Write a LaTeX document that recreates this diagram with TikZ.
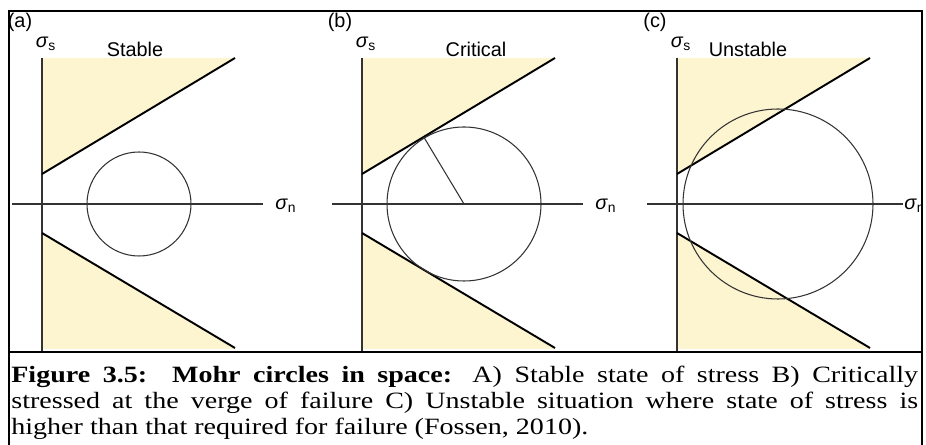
\documentclass[tikz,border=0pt]{standalone}
\usepackage{fontspec}
\setmainfont{Liberation Serif}[FakeStretch=1.2]
\setsansfont{Liberation Sans}
\usetikzlibrary{calc}
\definecolor{zone}{HTML}{FCF5CF}
\definecolor{axisline}{HTML}{333333}

\begin{document}
\begin{tikzpicture}[x=0.02cm, y=-0.02cm,
  font=\sffamily\fontsize{11.3}{13}\selectfont,
  fail/.style={fill=zone, draw=none},
  axisln/.style={draw=axisline, line width=0.6pt},
  env/.style={draw=black, line width=1.1pt},
  mohr/.style={draw=axisline, line width=0.6pt},
  frame/.style={draw=black, line width=1.2pt},
  lab/.style={inner sep=0pt},
  caption/.style={anchor=north west, inner sep=0pt, text width=18.14cm, align=justify,
                  font=\rmfamily\fontsize{13.3}{14.6}\selectfont}]
\useasboundingbox (0,0) rectangle (926,445);
% ---------------- three panels: failure zones, axes, envelopes
\begin{scope}
\clip (9,11) rectangle (922,352);
\foreach \ax/\xend/\tag/\id in {42/263/a/1, 362/583/b/2, 677/903/c/3} {
  \fill[fail] (\ax,58) -- (\ax+193,58) -- (\ax,174) -- cycle;
  \fill[fail] (\ax,233) -- (\ax+193,349) -- (\ax,349) -- cycle;
  \draw[axisln] (\ax,58) -- (\ax,352);
  \draw[axisln] (\ax-30,204) -- (\xend,204);
  \draw[env] (\ax,174) -- (\ax+193,58);
  \draw[env] (\ax,233) -- (\ax+193,348);
  \node[lab] (tag\id) at (\ax-22,22) {(\tag)};
  \node[lab] (ss\id) at (\ax+4,44) {\textit{σ}\textsubscript{s}};
}
\node[lab, anchor=west] (sn1) at (275,206) {\textit{σ}\textsubscript{n}};
\node[lab, anchor=west] (sn2) at (595,206) {\textit{σ}\textsubscript{n}};
\node[lab, anchor=west] (sn3) at (904,206) {\textit{σ}\textsubscript{n}};
\end{scope}
\node[lab] (t1) at (135,49) {Stable};
\node[lab] (t2) at (476,49) {Critical};
\node[lab] (t3) at (748,49) {Unstable};
% ---------------- Mohr circles
\coordinate (c1) at (139,204);
\coordinate (c2) at (464,204);
\coordinate (c3) at (778,204);
\draw[mohr] (c1) circle[radius=52];
\draw[mohr] (c2) circle[radius=77];
\draw[mohr] (c2) -- ($(362,174)!(c2)!(555,58)$);
\draw[mohr] (c3) circle[radius=95];
% ---------------- frames
\draw[frame] (9,11) rectangle (922,352);
\draw[frame] (9,446) -- (9,352) -- (922,352) -- (922,446);
% ---------------- caption
\node[caption] (cap) at (11,366) {\textbf{Figure 3.5:\ \ Mohr circles in space:} A) Stable state of stress B) Critically\linebreak
stressed at the verge of failure C) Unstable situation where state of stress is\linebreak
higher than that required for failure (Fossen, 2010).};
\end{tikzpicture}
\end{document}
